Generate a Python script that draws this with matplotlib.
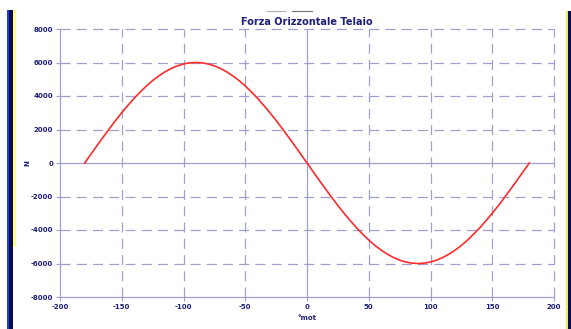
import matplotlib
matplotlib.use("Agg")
import matplotlib.pyplot as plt
from matplotlib.patches import Rectangle
from matplotlib.lines import Line2D

# Data (angle in degrees, force in N)
angles = [-180, -175, -170, -165, -160, -155, -150, -145, -140, -135, -130, -125,
          -120, -115, -110, -105, -100, -95, -90, -85, -80, -75, -70, -65, -60,
          -55, -50, -45, -40, -35, -30, -25, -20, -15, -10, -5, 0,
          5, 10, 15, 20, 25, 30, 35, 40, 45, 50, 55, 60, 65, 70, 75, 80, 85, 90,
          95, 100, 105, 110, 115, 120, 125, 130, 135, 140, 145, 150, 155, 160,
          165, 170, 175, 180]
force = [0, 520, 1040, 1550, 2050, 2540, 3000, 3440, 3860, 4240, 4600, 4920,
         5200, 5440, 5640, 5800, 5910, 5980, 6000, 5980, 5910, 5800, 5640, 5440, 5200,
         4920, 4600, 4240, 3860, 3440, 3000, 2540, 2050, 1550, 1040, 520, 0,
         -520, -1040, -1550, -2050, -2540, -3000, -3440, -3860, -4240, -4600, -4920,
         -5200, -5440, -5640, -5800, -5910, -5980, -6000,
         -5980, -5910, -5800, -5640, -5440, -5200, -4920, -4600, -4240, -3860, -3440,
         -3000, -2540, -2050, -1550, -1040, -520, 0]
x_ticks = [-200, -150, -100, -50, 0, 50, 100, 150, 200]
y_ticks = [8000, 6000, 4000, 2000, 0, -2000, -4000, -6000, -8000]
title = "Forza Orizzontale Telaio"
xlabel = "°mot"
ylabel = "N"

W, H = 571, 329
fig = plt.figure(figsize=(W / 100, H / 100), dpi=100)
fig.patch.set_facecolor("white")

def px_rect(x0, y0, x1, y1, color):
    fig.patches.append(Rectangle((x0 / W, 1 - y1 / H), (x1 - x0) / W, (y1 - y0) / H,
                                 transform=fig.transFigure, color=color, lw=0, zorder=0))

# side decorations
px_rect(7, 10, 9, H, "#1a3fd0")
px_rect(9, 10, 13, H, "#0a0a50")
px_rect(13, 10, 16, 247, "#ffff80")
px_rect(566, 11, 568, H, "#f0f040")
px_rect(568, 11, W, H, "#0a0a50")

# small lines above title
fig.add_artist(Line2D([267 / W, 285 / W], [1 - 11 / H, 1 - 11 / H], color="#b0b0b0", lw=0.8))
fig.add_artist(Line2D([292 / W, 312 / W], [1 - 11 / H, 1 - 11 / H], color="#707070", lw=0.8))

ax = fig.add_axes([60 / W, 1 - 297 / H, (554 - 60) / W, (297 - 29) / H])
ax.set_xlim(-200, 200)
ax.set_ylim(-8000, 8000)

grid_c = "#a0a0d0"
navy = "#1e1e78"
dash = (0, (8, 5))

for xv in x_ticks:
    if xv == 0:
        ax.axvline(xv, color=grid_c, lw=0.9, zorder=1)
    elif xv != -200:
        ax.axvline(xv, color=grid_c, lw=0.9, ls=dash, zorder=1, clip_on=False)
for yv in y_ticks:
    if yv == 0:
        ax.axhline(yv, color=grid_c, lw=0.9, zorder=1)
    elif yv != -8000:
        ax.axhline(yv, color=grid_c, lw=0.9, ls=dash, zorder=1, clip_on=False)

ax.plot(angles, force, color="#ff2a2a", lw=1.2, zorder=3)

for s in ["top", "right"]:
    ax.spines[s].set_visible(False)
for s in ["left", "bottom"]:
    ax.spines[s].set_color(grid_c)
    ax.spines[s].set_linewidth(0.9)

ax.set_xticks(x_ticks)
ax.set_yticks(y_ticks)
ax.set_xticklabels([str(v) for v in x_ticks])
ax.set_yticklabels([str(v) for v in y_ticks])
ax.tick_params(axis="both", length=3, width=0.8, color=grid_c, labelsize=5,
               labelcolor=navy, pad=2)
for lab in ax.get_xticklabels() + ax.get_yticklabels():
    lab.set_fontweight("bold")

ax.set_title(title, fontsize=7, fontweight="bold", color=navy, pad=3)
ax.set_xlabel(xlabel, fontsize=5, fontweight="bold", color=navy, labelpad=4)
fig.text(27 / W, 1 - 163 / H, ylabel, fontsize=5, fontweight="bold", color=navy,
         rotation=90, ha="center", va="center")

fig.savefig("out.png", dpi=100, facecolor="white")
